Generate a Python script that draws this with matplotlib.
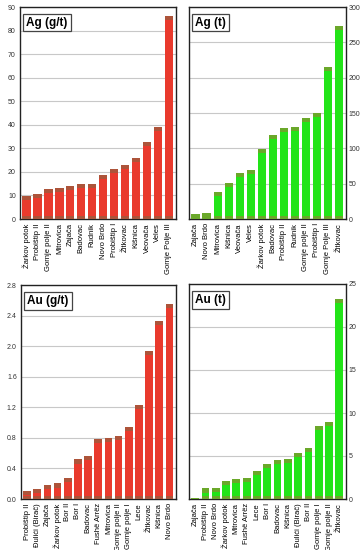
import matplotlib.pyplot as plt

plt.rcParams["font.family"] = ["Liberation Sans", "DejaVu Sans"]

# Ag grade, g/t
ag_gt_names = ["Žarkov potok", "Probištip II", "Gornje polje II", "Mitrovica", "Zajača",
               "Badovac", "Rudnik", "Novo Brdo", "Probištip I", "Žitkovac", "Kišnica",
               "Veovača", "Veles", "Gornje Polje III"]
ag_gt_vals = [9.8, 10.5, 12.8, 13.2, 14.1, 14.8, 14.9, 18.8, 21.3, 22.8, 25.9, 32.6, 39.2, 86.3]

# Ag metal, t
ag_t_names = ["Zajača", "Novo Brdo", "Mitrovica", "Kišnica", "Veovača", "Veles",
              "Žarkov potok", "Badovac", "Probištip II", "Rudnik", "Gornje polje II",
              "Probištip I", "Gornje Polje III", "Žitkovac"]
ag_t_vals = [7.5, 9, 38.7, 51.4, 64.6, 69.3, 99.5, 119.5, 128.3, 130.6, 143.4, 149.5, 214.6, 272.6]

# Au grade, g/t
au_gt_names = ["Probištip II", "Đulići (Birač)", "Zajača", "Žarkov potok", "Bor II", "Bor I",
               "Badovac", "Fushë Arrëz", "Mitrovica", "Gornje polje II", "Gornje polje I",
               "Lece", "Žitkovac", "Kišnica", "Novo Brdo"]
au_gt_vals = [0.10, 0.13, 0.187, 0.204, 0.27, 0.517, 0.565, 0.783, 0.80, 0.82, 0.948,
              1.23, 1.94, 2.33, 2.55]

# Au metal, t
au_t_names = ["Zajača", "Probištip II", "Novo Brdo", "Žarkov potok", "Mitrovica",
              "Fushë Arrëz", "Lece", "Bor I", "Badovac", "Kišnica", "Đulići (Birač)",
              "Bor II", "Gornje polje I", "Gornje polje II", "Žitkovac"]
au_t_vals = [0.1, 1.23, 1.27, 2.08, 2.35, 2.42, 3.27, 4.12, 4.54, 4.65, 5.35, 5.96, 8.5, 8.92, 23.25]

W, H = 363, 550
fig = plt.figure(figsize=(W / 100, H / 100), dpi=100)


def panel(px, names, vals, title, ymax, step, fmt, color, cap, right):
    x0, y0, x1, y1 = px
    ax = fig.add_axes([x0 / W, 1 - y1 / H, (x1 - x0) / W, (y1 - y0) / H])
    xs = range(len(vals))
    ax.bar(xs, vals, width=0.75, color=color, zorder=2)
    c = ymax * 0.012
    ax.bar(xs, [min(c * 1.6, v) for v in vals], width=0.75,
           bottom=[v - min(c * 1.6, v) for v in vals], color=cap, zorder=3)
    ax.bar(xs, [min(c, v) for v in vals], width=0.75, color=cap, zorder=3)
    ax.set_xlim(-0.6, len(vals) - 0.35)
    ax.set_ylim(0, ymax)
    ticks = [i * step for i in range(int(round(ymax / step)) + 1)]
    ax.set_yticks(ticks)
    ax.set_yticklabels([fmt.format(t) for t in ticks], fontsize=5.0, color="#333333")
    ax.set_xticks(list(xs))
    ax.set_xticklabels(names, rotation=90, fontsize=5.5)
    ax.tick_params(axis="x", length=0, pad=3)
    ax.tick_params(axis="y", length=0, pad=2 if right else 3)
    if right:
        ax.yaxis.tick_right()
    ax.grid(axis="y", color="#c8c8c8", linewidth=0.8, zorder=0)
    for s in ax.spines.values():
        s.set_color("#222222")
        s.set_linewidth(1.0)
    ax.text(0.04, 0.955, title, transform=ax.transAxes, ha="left", va="top",
            fontsize=8.5, fontweight="bold",
            bbox=dict(boxstyle="square,pad=0.25", facecolor="white", edgecolor="#444444",
                      linewidth=0.9), zorder=5)
    return ax


red, brown = "#e93a2d", "#ad543a"
green, olive = "#22e418", "#6aa82a"

panel((20, 7, 176, 219), ag_gt_names, ag_gt_vals, "Ag (g/t)", 90, 10, "{:.0f}", red, brown, False)
panel((189, 7, 346, 219), ag_t_names, ag_t_vals, "Ag (t)", 300, 50, "{:.0f}", green, olive, True)
panel((21, 285, 176, 499), au_gt_names, au_gt_vals, "Au (g/t)", 2.8, 0.4, "{:.1f}", red, brown, False)
panel((189, 284, 346, 499), au_t_names, au_t_vals, "Au (t)", 25, 5, "{:.0f}", green, olive, True)

fig.savefig("out.png", dpi=100)
